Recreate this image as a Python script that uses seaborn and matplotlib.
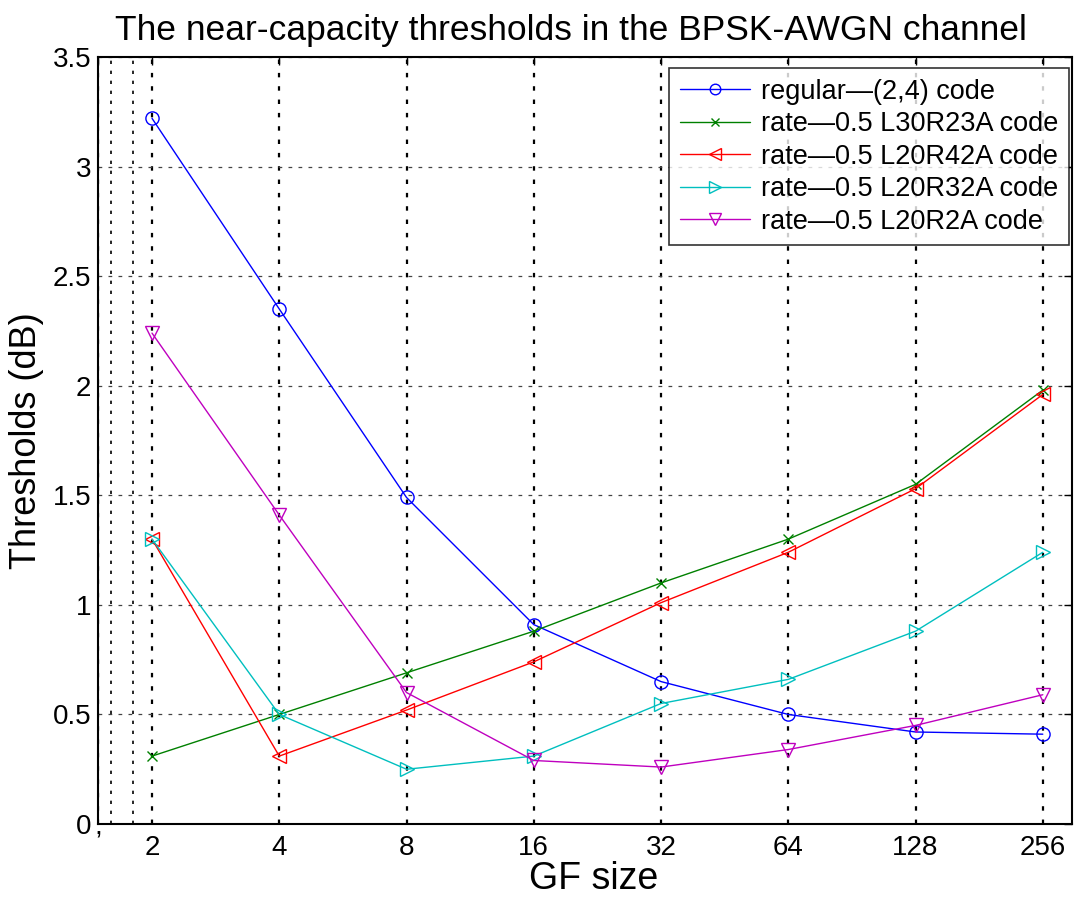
import pandas as pd
import matplotlib
matplotlib.use('Agg')
import matplotlib.pyplot as plt
import seaborn as sns

gf_sizes = [2, 4, 8, 16, 32, 64, 128, 256]
regular_24 = [3.22, 2.35, 1.49, 0.91, 0.65, 0.50, 0.42, 0.41]
l30r23a = [0.31, 0.50, 0.69, 0.88, 1.10, 1.30, 1.55, 1.98]
l20r42a = [1.30, 0.31, 0.52, 0.74, 1.01, 1.24, 1.53, 1.96]
l20r32a = [1.30, 0.50, 0.25, 0.31, 0.55, 0.66, 0.88, 1.24]
l20r2a = [2.24, 1.41, 0.60, 0.29, 0.26, 0.34, 0.45, 0.59]

series_names = ['regular\u2014(2,4) code', 'rate\u20140.5 L30R23A code',
                'rate\u20140.5 L20R42A code', 'rate\u20140.5 L20R32A code',
                'rate\u20140.5 L20R2A code']
series_values = [regular_24, l30r23a, l20r42a, l20r32a, l20r2a]
colors = ['#0000ff', '#008000', '#ff0000', '#00bfbf', '#bf00bf']
markers = ['o', 'x', '<', '>', 'v']
marker_sizes = [9.5, 7, 10, 10, 10]

xtick_labels = [',', '2', '4', '8', '16', '32', '64', '128', '256']
yticks = [0, 0.5, 1, 1.5, 2, 2.5, 3, 3.5]
ytick_labels = ['0', '0.5', '1', '1.5', '2', '2.5', '3', '3.5']

sns.set_style('white')
plt.rcParams['font.family'] = ['Liberation Sans', 'DejaVu Sans']
plt.rcParams['text.color'] = 'black'
plt.rcParams['axes.labelcolor'] = 'black'

fig = plt.figure(figsize=(10.91, 9), dpi=100)
ax = fig.add_axes([0.0898, 0.0844, 0.8927, 0.8523])

for name, vals, c, m, ms in zip(series_names, series_values, colors, markers, marker_sizes):
    df = pd.DataFrame({'GF size': gf_sizes, 'Thresholds': vals})
    sns.lineplot(data=df, x='GF size', y='Thresholds', ax=ax, color=c, marker=m,
                 markersize=ms, markerfacecolor='none', markeredgecolor=c,
                 markeredgewidth=1.0, linewidth=1.0, label=name)

ax.set_xscale('log', base=2)
xmin, xmax = 1.49, 300
ax.set_xlim(xmin, xmax)
ax.set_ylim(0, 3.5)
ax.set_xticks([xmin] + gf_sizes)
ax.set_xticklabels(xtick_labels)
ax.set_xticks([1.6, 1.8], minor=True)
ax.set_yticks(yticks)
ax.set_yticklabels(ytick_labels)

ax.tick_params(axis='both', which='major', direction='in', length=6, width=1,
               top=True, right=True, labelsize=20, colors='black')
ax.tick_params(axis='x', which='major', pad=8)
ax.tick_params(axis='y', which='major', pad=5)
ax.tick_params(axis='x', which='minor', direction='in', length=0, top=False, bottom=False)
ax.xaxis.get_major_ticks()[0].set_pad(-7)

ax.grid(axis='x', which='major', color='black', linestyle=(0, (2, 4)), linewidth=1.6)
ax.grid(axis='x', which='minor', color='black', linestyle=(0, (2, 4)), linewidth=1.2)
ax.grid(axis='y', which='major', color='#444444', linestyle=(0, (3, 5)), linewidth=0.9)

for s in ax.spines.values():
    s.set_color('black')
    s.set_linewidth(1.5)

ax.set_title('The near-capacity thresholds in the BPSK-AWGN channel', fontsize=25.5,
             pad=12, x=0.486)
ax.set_xlabel('GF size', fontsize=27, labelpad=0, x=0.509)
ax.set_ylabel('Thresholds (dB)', fontsize=26, labelpad=6)

leg = ax.legend(loc='upper right', bbox_to_anchor=(0.997, 0.986), borderaxespad=0,
                fontsize=19.5, frameon=True, fancybox=False, markerscale=0.8,
                handlelength=2.6, borderpad=0.4, labelspacing=0.24,
                handletextpad=0.4)
leg.get_frame().set_edgecolor('black')
leg.get_frame().set_linewidth(1.2)

plt.savefig('out.png', dpi=100)
